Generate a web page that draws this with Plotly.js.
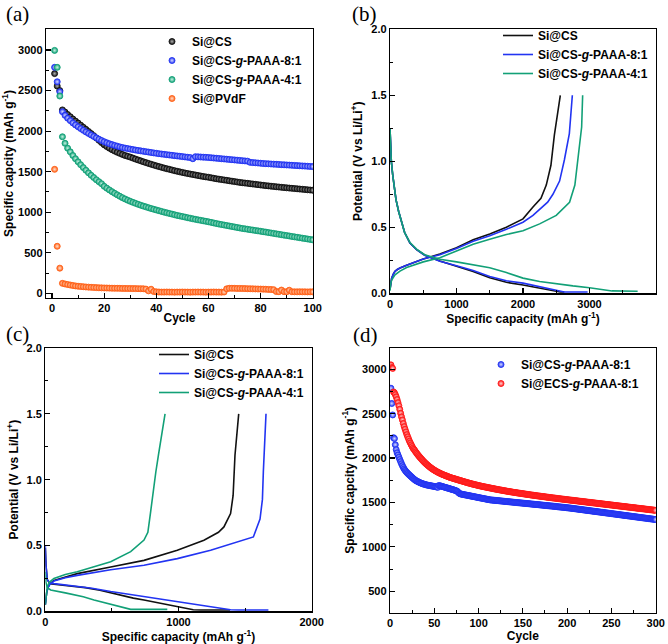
<!DOCTYPE html>
<html><head><meta charset="utf-8">
<script src="https://cdn.plot.ly/plotly-3.0.1.min.js"></script>
<style>html,body{margin:0;padding:0;background:#fff}</style>
</head><body><div id="chart" style="width:668px;height:644px"></div>
<script>
// ---------- Panel (a): cycling, 100 cycles ----------
const cyclesA = Array.from({length:100},(_, i)=>i+1);
const aCS = [2710,2556,2500,2262,2235,2205,2178,2150,2124,2100,
2074,2048,2022,1996,1970,1944,1915,1887,1859,1832,
1810,1790,1772,1755,1740,1726,1713,1700,1690,1680,
1668,1656,1645,1634,1623,1612,1602,1592,1582,1572,
1563,1554,1545,1537,1529,1521,1513,1505,1498,1491,
1484,1477,1471,1465,1459,1453,1447,1441,1436,1431,
1425,1419,1413,1408,1403,1398,1393,1388,1383,1378,
1373,1368,1364,1360,1356,1352,1348,1344,1340,1336,
1332,1328,1325,1321,1318,1314,1311,1307,1304,1301,
1298,1295,1292,1289,1286,1283,1280,1277,1274,1271];
const aCS81 = [2787,2609,2486,2240,2195,2160,2130,2102,2077,2054,
2032,2011,1991,1972,1953,1935,1918,1901,1885,1870,
1857,1845,1834,1824,1815,1806,1798,1791,1785,1779,
1773,1767,1762,1757,1752,1747,1742,1737,1732,1727,
1722,1718,1714,1710,1706,1702,1698,1694,1690,1686,
1682,1678,1674,1660,1685,1683,1681,1679,1677,1675,
1672,1669,1666,1663,1660,1657,1654,1651,1648,1645,
1642,1639,1636,1633,1630,1615,1612,1610,1607,1604,
1601,1599,1597,1595,1593,1591,1589,1587,1585,1583,
1581,1579,1577,1575,1573,1571,1569,1567,1565,1563];
const aCS41 = [2996,2787,2433,1931,1850,1790,1745,1700,1660,1622,
1586,1551,1518,1486,1456,1428,1401,1376,1352,1320,
1297,1275,1254,1234,1215,1197,1180,1164,1149,1135,
1122,1110,1098,1087,1076,1066,1056,1046,1037,1028,
1019,1010,1001,993,985,977,969,961,954,947,
940,933,926,919,912,906,900,894,888,882,
875,868,861,854,848,842,836,830,824,818,
812,806,800,795,790,785,780,775,770,765,
760,755,749,744,739,733,728,723,717,712,
707,701,696,691,686,680,675,670,665,660];
const aPVdF = [1529,580,310,123,115,108,102,96,91,87,
84,81,78,76,74,72,70,68,67,66,
65,64,63,62,62,61,60,60,59,59,
58,58,57,57,56,52,30,50,22,18,
16,15,15,16,15,15,14,15,15,16,
15,15,14,15,15,16,15,15,14,15,
15,16,15,15,14,16,55,62,62,61,
60,60,59,58,57,56,55,54,53,52,
51,50,48,47,45,22,20,40,20,19,
38,19,18,18,19,18,18,17,18,18];

// ---------- Panel (b): 1st cycle voltage profiles ----------
const bCSdisX = [0,8,20,40,65,90,130,165,220,300,400,520,750,1000,1250,1500,1750,2000,2250,2450,2560,2621];
const bCSdisY = [1.25,1.12,1.0,0.9,0.8,0.71,0.62,0.55,0.46,0.38,0.33,0.29,0.245,0.205,0.165,0.118,0.083,0.063,0.038,0.018,0.01,0.01];
const bCSchgX = [0,5,10,25,50,75,110,150,250,500,750,1000,1250,1500,1750,2000,2150,2270,2350,2420,2472,2520,2561];
const bCSchgY = [0.03,0.06,0.09,0.115,0.145,0.167,0.18,0.192,0.213,0.26,0.297,0.346,0.405,0.449,0.5,0.564,0.654,0.72,0.82,0.97,1.2,1.35,1.5];
const b81disX = [0,8,20,40,65,90,130,165,220,300,400,520,750,1000,1250,1500,1750,2000,2250,2450,2550,2620,2972];
const b81disY = [1.25,1.12,1.0,0.9,0.8,0.71,0.62,0.55,0.46,0.38,0.33,0.288,0.242,0.208,0.172,0.128,0.095,0.077,0.05,0.025,0.012,0.01,0.01];
const b81chgX = [0,5,10,25,50,75,110,150,250,500,750,1000,1250,1500,1750,2000,2150,2300,2371,2450,2550,2622,2697,2742];
const b81chgY = [0.03,0.06,0.09,0.115,0.145,0.167,0.18,0.192,0.213,0.26,0.292,0.34,0.395,0.436,0.485,0.538,0.59,0.654,0.69,0.75,0.85,1.01,1.21,1.5];
const b41disX = [0,8,20,40,65,90,130,165,220,300,400,520,750,1000,1250,1500,1750,2000,2250,2500,2750,3000,3200,3338,3724];
const b41disY = [1.25,1.12,1.0,0.9,0.8,0.71,0.62,0.55,0.46,0.385,0.335,0.292,0.258,0.238,0.218,0.194,0.157,0.115,0.09,0.072,0.056,0.042,0.03,0.018,0.015];
const b41chgX = [0,5,10,25,50,75,150,250,500,750,1000,1250,1500,1750,2000,2250,2500,2700,2780,2822,2860,2882,2897];
const b41chgY = [0.02,0.05,0.07,0.1,0.125,0.14,0.168,0.195,0.238,0.27,0.32,0.372,0.41,0.445,0.474,0.526,0.59,0.69,0.82,1.01,1.15,1.26,1.5];

// ---------- Panel (c): later-cycle voltage profiles ----------
const cCSdisX = [0,5,15,35,65,160,300,410,491,661,741,911,991,1061,1111,1167,1387];
const cCSdisY = [0.48,0.35,0.24,0.21,0.205,0.197,0.18,0.16,0.14,0.1,0.086,0.05,0.035,0.022,0.012,0.01,0.01];
const cCSchgX = [0,5,10,20,35,65,150,240,491,741,991,1191,1300,1341,1391,1410,1424,1440,1452];
const cCSchgY = [0.05,0.1,0.14,0.18,0.21,0.235,0.26,0.286,0.337,0.387,0.463,0.54,0.6,0.641,0.742,0.88,1.185,1.35,1.5];
const c81disX = [0,5,15,35,65,200,350,491,741,991,1241,1391,1450,1675];
const c81disY = [0.5,0.35,0.24,0.215,0.21,0.195,0.175,0.15,0.111,0.073,0.035,0.012,0.01,0.01];
const c81chgX = [0,5,10,20,35,65,150,240,491,741,991,1241,1491,1562,1612,1630,1637,1648,1657];
const c81chgY = [0.05,0.1,0.14,0.18,0.205,0.23,0.255,0.273,0.316,0.35,0.4,0.463,0.54,0.565,0.7,0.85,1.06,1.3,1.5];
const c41disX = [0,5,15,40,150,285,366,535,600,641,916];
const c41disY = [0.3,0.22,0.18,0.162,0.14,0.11,0.086,0.045,0.025,0.015,0.015];
const c41chgX = [0,5,10,15,30,65,150,240,491,641,741,770,790,811,830,849,875,899];
const c41chgY = [0.05,0.1,0.15,0.187,0.22,0.25,0.28,0.3,0.377,0.453,0.541,0.6,0.75,0.93,1.06,1.185,1.34,1.5];

// ---------- Panel (d): long cycling, 300 cycles ----------
const cyclesD = Array.from({length:300},(_, i)=>i+1);
const dCS81 = [2787,2615,2486,2230,2220,2150,2095,2060,2035,2010,
1985,1960,1937,1915,1895,1877,1862,1849,1838,1828,
1818,1808,1799,1790,1781,1772,1763,1755,1748,1742,
1737,1732,1727,1722,1718,1714,1710,1707,1704,1701,
1698,1696,1694,1692,1690,1688,1686,1684,1682,1680,
1678,1676,1674,1670,1690,1688,1686,1683,1680,1677,
1674,1671,1668,1665,1662,1659,1656,1653,1650,1647,
1644,1641,1638,1634,1630,1625,1615,1605,1598,1595,
1593,1591,1589,1587,1585,1583,1581,1579,1577,1575,
1573,1571,1569,1567,1565,1563,1561,1559,1557,1555,
1553,1551,1549,1547,1545,1543,1541,1539,1537,1535,
1533,1531,1529,1528,1527,1526,1525,1524,1523,1522,
1521,1520,1519,1518,1517,1516,1515,1514,1513,1512,
1511,1510,1509,1508,1507,1506,1505,1504,1503,1502,
1501,1500,1499,1498,1497,1496,1495,1494,1493,1492,
1491,1490,1489,1488,1487,1486,1485,1484,1483,1482,
1481,1480,1479,1478,1477,1476,1475,1474,1473,1472,
1471,1470,1469,1468,1467,1466,1465,1464,1463,1462,
1461,1460,1459,1458,1457,1456,1455,1454,1452,1451,
1450,1449,1448,1447,1446,1445,1444,1443,1441,1440,
1439,1438,1437,1436,1434,1433,1432,1430,1429,1428,
1426,1425,1424,1422,1421,1420,1418,1417,1416,1414,
1413,1412,1410,1409,1408,1406,1405,1404,1402,1401,
1400,1398,1397,1396,1394,1393,1392,1390,1389,1388,
1386,1385,1384,1382,1381,1380,1378,1377,1376,1374,
1373,1372,1370,1369,1368,1366,1365,1364,1362,1361,
1360,1358,1357,1356,1354,1353,1352,1350,1349,1348,
1346,1345,1344,1342,1341,1340,1338,1337,1336,1334,
1333,1332,1330,1329,1328,1326,1325,1324,1322,1321,
1320,1318,1317,1316,1314,1313,1312,1310,1309,1308];
const dECS81 = [3050,3020,3010,2745,2735,2715,2690,2660,2625,2590,
2550,2505,2465,2430,2390,2355,2325,2295,2265,2240,
2215,2190,2170,2150,2130,2112,2098,2085,2070,2056,
2043,2030,2018,2006,1995,1984,1973,1962,1952,1942,
1933,1924,1915,1907,1899,1891,1884,1877,1870,1864,
1858,1852,1846,1841,1836,1831,1826,1821,1817,1813,
1809,1805,1801,1797,1793,1789,1785,1782,1778,1775,
1772,1769,1766,1763,1760,1757,1754,1751,1748,1745,
1742,1739,1736,1733,1730,1727,1724,1721,1718,1716,
1713,1710,1708,1705,1703,1700,1698,1695,1693,1690,
1688,1686,1684,1681,1679,1677,1675,1673,1671,1669,
1667,1665,1663,1661,1659,1657,1655,1653,1651,1649,
1647,1645,1643,1641,1640,1638,1636,1634,1632,1631,
1629,1627,1625,1624,1622,1620,1619,1617,1615,1614,
1612,1611,1609,1607,1606,1604,1603,1601,1600,1598,
1597,1595,1594,1592,1591,1589,1588,1586,1585,1583,
1582,1581,1579,1578,1576,1575,1574,1572,1571,1570,
1568,1567,1566,1564,1563,1562,1560,1559,1558,1556,
1555,1554,1552,1551,1550,1549,1547,1546,1545,1543,
1542,1541,1540,1538,1537,1536,1535,1533,1532,1531,
1530,1529,1527,1526,1525,1524,1523,1521,1520,1519,
1518,1517,1515,1514,1513,1512,1511,1509,1508,1507,
1506,1505,1503,1502,1501,1500,1499,1497,1496,1495,
1494,1493,1491,1490,1489,1488,1487,1485,1484,1483,
1482,1481,1479,1478,1477,1476,1475,1473,1472,1471,
1470,1469,1467,1466,1465,1464,1463,1461,1460,1459,
1458,1457,1455,1454,1453,1452,1451,1449,1448,1447,
1446,1445,1443,1442,1441,1440,1439,1437,1436,1435,
1434,1433,1431,1430,1429,1428,1427,1425,1424,1423,
1422,1421,1419,1418,1417,1416,1415,1413,1412,1411];

// ---------- styles ----------
const SANS = 'Liberation Sans, Arial, sans-serif';
const C = {black:'#111111', blue:'#2234f2', green:'#12a077', orange:'#ff621a', red:'#ff1a1a'};
const LIGHT = {black:'#b0b0b0', blue:'#d6daff', green:'#c8f2e2', orange:'#ffe0cc', red:'#ffd4d4'};
const joinSeg = (x1,y1,x2,y2)=>({x:x1.concat([null],x2), y:y1.concat([null],y2)});

function sc(x,y,name,key,xa,ya,leg){
  return {type:'scatter', mode:'markers', x:x, y:y, name:name, xaxis:xa, yaxis:ya, legend:leg,
    marker:{size:6, color:C[key], gradient:{type:'radial', color:LIGHT[key]}, line:{width:0.9, color:C[key]}}};
}
function ln(seg,name,key,xa,ya,leg){
  return {type:'scatter', mode:'lines', x:seg.x, y:seg.y, name:name, xaxis:xa, yaxis:ya, legend:leg,
    connectgaps:false, line:{color:C[key], width:1.6}};
}
const N_CS='Si@CS', N81='Si@CS-<i>g</i>-PAAA-8:1', N41='Si@CS-<i>g</i>-PAAA-4:1', NPV='Si@PVdF', NE81='Si@ECS-<i>g</i>-PAAA-8:1';

const data = [
  sc(cyclesA,aCS,N_CS,'black','x','y','legend'),
  sc(cyclesA,aCS81,N81,'blue','x','y','legend'),
  sc(cyclesA,aCS41,N41,'green','x','y','legend'),
  sc(cyclesA,aPVdF,NPV,'orange','x','y','legend'),
  ln(joinSeg(bCSdisX,bCSdisY,bCSchgX,bCSchgY),N_CS,'black','x2','y2','legend2'),
  ln(joinSeg(b81disX,b81disY,b81chgX,b81chgY),N81,'blue','x2','y2','legend2'),
  ln(joinSeg(b41disX,b41disY,b41chgX,b41chgY),N41,'green','x2','y2','legend2'),
  ln(joinSeg(cCSdisX,cCSdisY,cCSchgX,cCSchgY),N_CS,'black','x3','y3','legend3'),
  ln(joinSeg(c81disX,c81disY,c81chgX,c81chgY),N81,'blue','x3','y3','legend3'),
  ln(joinSeg(c41disX,c41disY,c41chgX,c41chgY),N41,'green','x3','y3','legend3'),
  sc(cyclesD,dCS81,N81,'blue','x4','y4','legend4'),
  sc(cyclesD,dECS81,NE81,'red','x4','y4','legend4')
];

const W=668, H=644;
const px = v=>v/W, py = v=>1-v/H;
function ax(opts){
  const base = {showline:true, linecolor:'#000', linewidth:1.2, mirror:true,
    ticks:'inside', ticklen:5, tickwidth:1.2, tickcolor:'#000',
    showgrid:false, zeroline:false, fixedrange:true,
    tickfont:{family:SANS, size:11, weight:'bold', color:'#000'}};
  return Object.assign(base, opts);
}
const mnr = d=>({ticks:'inside', ticklen:3, tickwidth:1, tickcolor:'#000', showgrid:false, dtick:d});
function ttl(text, standoff){
  return {text:text, standoff:standoff, font:{family:SANS, size:12, weight:'bold', color:'#000'}};
}
const capA = 'Specific capcity (mAh g<sup>-1</sup>)';
const capB = 'Specific capacity (mAh g<sup>-1</sup>)';
const pot = 'Potential (V vs Li/Li<sup>+</sup>)';
const legFont = {family:SANS, size:12, weight:'bold', color:'#000'};
function leg(x,y){ return {x:x, y:y, xanchor:'left', yanchor:'top', bgcolor:'rgba(0,0,0,0)', font:legFont, itemwidth:30}; }
const lbl = (t,x,y)=>({text:t, xref:'paper', yref:'paper', x:px(x), y:py(y), xanchor:'left', yanchor:'top', showarrow:false,
  font:{family:'Liberation Serif, Times New Roman, serif', size:21, color:'#000'}});

const layout = {
  width:W, height:H, margin:{l:0,r:0,t:0,b:0}, paper_bgcolor:'#fff', plot_bgcolor:'#fff', showlegend:true,
  xaxis: ax({domain:[px(46),px(313)], anchor:'y', range:[-2.3,100.1], dtick:20, tick0:0, minor:mnr(10), title:ttl('Cycle',0)}),
  yaxis: ax({domain:[py(298),py(29)], anchor:'x', range:[-58,3260], dtick:500, tick0:0, tickformat:'d', minor:mnr(250), title:ttl(capA,4)}),
  xaxis2: ax({domain:[px(390),px(656)], anchor:'y2', range:[0,4000], dtick:1000, tick0:0, tickformat:'d', minor:mnr(500), title:ttl(capB,4)}),
  yaxis2: ax({domain:[py(293.3),py(29.3)], anchor:'x2', range:[0,2], dtick:0.5, tick0:0, tickformat:'.1f', minor:mnr(0.25), title:ttl(pot,6)}),
  xaxis3: ax({domain:[px(45.3),px(311.7)], anchor:'y3', range:[0,2000], dtick:1000, tick0:0, tickformat:'d', minor:mnr(500), title:ttl(capB,5)}),
  yaxis3: ax({domain:[py(611.3),py(348)], anchor:'x3', range:[0,2], dtick:0.5, tick0:0, tickformat:'.1f', minor:mnr(0.25), title:ttl(pot,5)}),
  xaxis4: ax({domain:[px(390),px(655.7)], anchor:'y4', range:[0,300], dtick:50, tick0:0, minor:mnr(25), title:ttl('Cycle',2)}),
  yaxis4: ax({domain:[py(612.7),py(348)], anchor:'x4', range:[258,3240], dtick:500, tick0:0, tickformat:'d', minor:mnr(250), title:ttl(capA,5)}),
  legend: leg(px(152), py(27)),
  legend2: leg(px(498), py(21)),
  legend3: leg(px(154), py(340)),
  legend4: leg(px(481), py(350)),
  annotations:[lbl('(a)',4,0), lbl('(b)',350,0), lbl('(c)',4,320), lbl('(d)',351,321)]
};
Plotly.newPlot('chart', data, layout, {staticPlot:true, displayModeBar:false});
</script></body></html>
